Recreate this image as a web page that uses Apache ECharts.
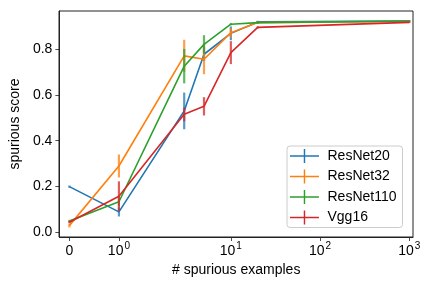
<!DOCTYPE html>
<html>
<head>
<meta charset="utf-8">
<script src="https://cdn.jsdelivr.net/npm/echarts@6/dist/echarts.min.js"></script>
<style>html,body{margin:0;padding:0;background:#fff}#c{width:432px;height:288px}</style>
</head>
<body>
<div id="c"></div>
<script>
// ---- data ----
var xValues = [0, 1, 3, 5, 10, 20, 1000];
var seriesNames = ['ResNet20', 'ResNet32', 'ResNet110', 'Vgg16'];
var resnet20 = [0.20, 0.09, 0.53, 0.777, 0.868, 0.918, 0.922];
var resnet20Err = [0.005, 0.02, 0.08, 0.03, 0.03, 0.005, 0.003];
var resnet32 = [0.03, 0.29, 0.77, 0.755, 0.871, 0.915, 0.92];
var resnet32Err = [0.008, 0.05, 0.07, 0.065, 0.02, 0.005, 0.003];
var resnet110 = [0.05, 0.134, 0.725, 0.82, 0.908, 0.915, 0.922];
var resnet110Err = [0.005, 0.02, 0.075, 0.04, 0.005, 0.005, 0.003];
var vgg16 = [0.045, 0.158, 0.515, 0.55, 0.784, 0.894, 0.916];
var vgg16Err = [0.005, 0.065, 0.03, 0.04, 0.05, 0.005, 0.003];
var xTickValues = [0, 1, 10, 100, 1000];
var xTickLabels = ['{b|0}', '{b|10}{s|0}', '{b|10}{s|1}', '{b|10}{s|2}', '{b|10}{s|3}'];
var yTickValues = [0, 0.2, 0.4, 0.6, 0.8];
var yTickLabels = ['0.0', '0.2', '0.4', '0.6', '0.8'];

var colors = ['#1f77b4', '#ff7f0e', '#2ca02c', '#d62728'];
var allVals = [resnet20, resnet32, resnet110, vgg16];
var allErrs = [resnet20Err, resnet32Err, resnet110Err, vgg16Err];

// symlog transform (linthresh=2, linscale=1, base 10)
var LT = 2, LS = 1 / (1 - 1 / 10);
function T(x) {
  var a = Math.abs(x);
  if (a <= LT) return x * LS;
  return Math.sign(x) * LT * (LS + Math.log10(a / LT));
}

var FONT = 'Liberation Sans';
var series = [];
seriesNames.forEach(function (name, i) {
  var errData = xValues.map(function (x, j) { return [T(x), allVals[i][j], allErrs[i][j]]; });
  series.push({
    type: 'custom',
    name: name + '_err',
    z: 2 + i * 2,
    silent: true,
    data: errData,
    renderItem: function (params, api) {
      var x = api.value(0), y = api.value(1), e = api.value(2);
      var p1 = api.coord([x, y - e]);
      var p2 = api.coord([x, y + e]);
      return {
        type: 'line',
        shape: { x1: p1[0], y1: p1[1], x2: p2[0], y2: p2[1] },
        style: { stroke: colors[i], lineWidth: 2.2, opacity: 0.75 }
      };
    }
  });
  series.push({
    type: 'line',
    name: name,
    z: 3 + i * 2,
    data: xValues.map(function (x, j) { return [T(x), allVals[i][j]]; }),
    showSymbol: false,
    symbol: 'none',
    lineStyle: { color: colors[i], width: 1.6 },
    itemStyle: { color: colors[i] },
    animation: false
  });
});

var crossIcon = 'path://M0,13 L60,13 L60,16 L0,16 Z M28.5,0 L31.5,0 L31.5,29 L28.5,29 Z';

var chart = echarts.init(document.getElementById('c'), null, { renderer: 'canvas' });
chart.setOption({
  animation: false,
  backgroundColor: '#fff',
  textStyle: { fontFamily: FONT },
  grid: { left: 59, right: 19, top: 11, bottom: 51, containLabel: false },
  legend: {
    orient: 'vertical',
    left: 287,
    top: 146,
    selectedMode: false,
    data: seriesNames.map(function (n) { return { name: n, icon: crossIcon }; }),
    itemWidth: 30,
    itemHeight: 14,
    itemGap: 6.5,
    padding: [3, 6, 3, 3],
    backgroundColor: 'rgba(255,255,255,0.8)',
    borderColor: '#cccccc',
    borderWidth: 1,
    borderRadius: 3,
    textStyle: { fontFamily: FONT, fontSize: 14, color: '#000', padding: [0, 0, 0, 3] }
  },
  xAxis: {
    type: 'value',
    min: T(0) - 0.224,
    max: 7.703,
    name: '# spurious examples',
    nameLocation: 'middle',
    nameGap: 22,
    nameTextStyle: { fontFamily: FONT, fontSize: 14, color: '#000' },
    axisLine: { show: true, onZero: false, lineStyle: { color: '#222', width: 1 } },
    axisTick: { show: true, length: 4, lineStyle: { color: '#222', width: 0.8 }, customValues: xTickValues.map(T) },
    splitLine: { show: false },
    axisLabel: {
      customValues: xTickValues.map(T),
      margin: 3,
      color: '#000',
      fontFamily: FONT,
      formatter: function (v, idx) {
        var k = 0, best = 1e9;
        xTickValues.forEach(function (t, j) { var d = Math.abs(T(t) - v); if (d < best) { best = d; k = j; } });
        return xTickLabels[k];
      },
      rich: {
        b: { fontSize: 14, fontFamily: FONT, color: '#000', lineHeight: 18, verticalAlign: 'bottom' },
        s: { fontSize: 10, fontFamily: FONT, color: '#000', lineHeight: 18, verticalAlign: 'bottom', padding: [0, 0, 7, 1] }
      }
    }
  },
  yAxis: {
    type: 'value',
    min: -0.0196,
    max: 0.9655,
    name: 'spurious score',
    nameLocation: 'middle',
    nameGap: 33,
    nameTextStyle: { fontFamily: FONT, fontSize: 14, color: '#000' },
    axisLine: { show: true, onZero: false, lineStyle: { color: '#222', width: 1 } },
    axisTick: { show: true, length: 4, lineStyle: { color: '#222', width: 0.8 }, customValues: yTickValues },
    splitLine: { show: false },
    axisLabel: {
      customValues: yTickValues,
      margin: 7,
      fontSize: 14,
      color: '#000',
      fontFamily: FONT,
      formatter: function (v) {
        var k = 0, best = 1e9;
        yTickValues.forEach(function (t, j) { var d = Math.abs(t - v); if (d < best) { best = d; k = j; } });
        return yTickLabels[k];
      }
    }
  },
  series: series,
  graphic: [{
    type: 'rect',
    shape: { x: 59, y: 11, width: 354, height: 226 },
    style: { fill: 'none', stroke: '#222', lineWidth: 1 },
    z: 1, silent: true
  }]
});
</script>
</body>
</html>
